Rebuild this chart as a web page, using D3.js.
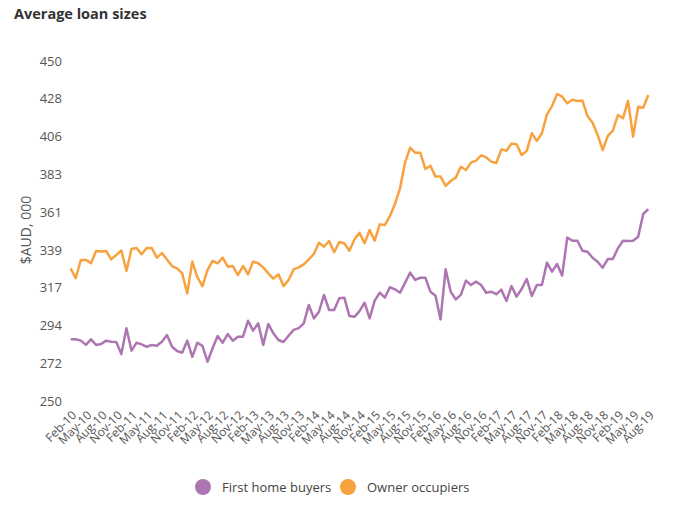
<!DOCTYPE html>
<html>
<head>
<meta charset="utf-8">
<script src="https://cdn.jsdelivr.net/npm/d3@7"></script>
<style>
  html, body { margin: 0; padding: 0; background: #fff; }
  svg text { font-family: "Open Sans", "Noto Sans", sans-serif; }
</style>
</head>
<body>
<svg id="chart" width="676" height="506"></svg>
<script>
const seriesNames = ["First home buyers", "Owner occupiers"];
const seriesColors = ["#ad76b3", "#f8a23f"];

const firstHomeBuyers = [
  286.3, 286.3, 285.5, 283.0, 286.3, 283.0, 283.5, 285.5, 284.9, 284.7,
  277.6, 292.8, 279.6, 284.3, 283.3, 281.9, 283.0, 282.5, 284.9, 288.8,
  281.9, 279.4, 278.4, 285.5, 276.0, 284.3, 282.4, 273.1, 281.0, 288.2,
  284.3, 289.4, 285.5, 287.8, 287.8, 297.2, 291.4, 295.7, 283.0, 295.3,
  289.8, 285.9, 284.7, 288.4, 291.8, 292.9, 295.7, 306.5, 298.6, 302.5,
  312.4, 303.5, 303.5, 310.4, 310.8, 300.0, 299.5, 302.9, 307.8, 298.6,
  309.0, 313.7, 310.8, 316.9, 315.7, 313.7, 319.6, 325.5, 321.2, 322.5,
  322.5, 314.3, 311.9, 298.0, 327.5, 314.3, 309.8, 312.4, 320.8, 318.2,
  320.2, 318.2, 313.7, 314.3, 312.8, 315.5, 308.8, 317.6, 311.4, 315.9,
  321.8, 311.8, 318.2, 318.2, 331.4, 326.1, 330.6, 323.7, 346.1, 344.3,
  344.3, 338.4, 337.8, 334.3, 331.9, 328.4, 333.5, 333.5, 339.8, 344.3,
  344.1, 344.3, 346.6, 360.0, 362.9
];

const ownerOccupiers = [
  328.0, 322.2, 333.0, 333.0, 331.0, 338.2, 338.0, 338.2, 333.3, 335.9,
  338.5, 326.5, 339.4, 340.0, 336.3, 340.0, 340.0, 334.3, 337.0, 333.3,
  329.4, 328.0, 325.1, 313.3, 332.0, 322.8, 317.6, 327.0, 332.4, 331.0,
  334.3, 329.0, 329.4, 324.1, 329.4, 324.5, 332.0, 331.0, 328.6, 325.1,
  322.0, 324.5, 317.6, 321.2, 327.4, 328.6, 330.4, 333.3, 336.5, 343.1,
  340.8, 344.1, 337.5, 343.5, 342.8, 338.4, 345.0, 349.0, 342.8, 350.6,
  344.3, 353.9, 353.5, 358.8, 365.9, 375.1, 390.4, 399.0, 396.0, 396.0,
  386.5, 388.4, 382.0, 382.0, 376.5, 379.4, 381.4, 387.8, 385.9, 390.2,
  391.4, 394.5, 393.3, 390.8, 390.0, 398.0, 397.2, 401.4, 401.0, 394.7,
  397.0, 407.5, 403.0, 407.5, 418.6, 423.5, 430.6, 429.0, 425.1, 427.2,
  426.5, 426.7, 417.6, 413.7, 406.5, 397.6, 405.9, 409.0, 418.2, 416.3,
  426.5, 405.5, 423.1, 422.5, 430.0
];

const xTickLabels = [
  "Feb-10","May-10","Aug-10","Nov-10","Feb-11","May-11","Aug-11","Nov-11",
  "Feb-12","May-12","Aug-12","Nov-12","Feb-13","May-13","Aug-13","Nov-13",
  "Feb-14","May-14","Aug-14","Nov-14","Feb-15","May-15","Aug-15","Nov-15",
  "Feb-16","May-16","Aug-16","Nov-16","Feb-17","May-17","Aug-17","Nov-17",
  "Feb-18","May-18","Aug-18","Nov-18","Feb-19","May-19","Aug-19"
];
const yTickLabels = ["250","272","294","317","339","361","383","406","428","450"];
const yMin = 250, yMax = 450;

const svg = d3.select("#chart");
const x = d3.scaleLinear().domain([0, firstHomeBuyers.length - 1]).range([70.7, 648.3]);
const y = d3.scaleLinear().domain([yMin, yMax]).range([401, 61]);

// Title
svg.append("text")
  .attr("x", 14).attr("y", 19)
  .attr("font-size", 14.5).attr("font-weight", "bold")
  .attr("fill", "#333")
  .text("Average loan sizes");

// Y axis
const yTickVals = yTickLabels.map((d, i) => yMin + i * (yMax - yMin) / (yTickLabels.length - 1));
const yAxis = d3.axisLeft(y).tickValues(yTickVals)
  .tickFormat((d, i) => yTickLabels[i]).tickSize(0).tickPadding(0);
const yg = svg.append("g").attr("transform", "translate(62,0)").call(yAxis);
yg.select(".domain").remove();
yg.selectAll("text").attr("font-size", 13).attr("fill", "#555")
  .attr("font-family", '"Open Sans", sans-serif');

// Y label
svg.append("text")
  .attr("transform", "translate(31,230) rotate(-90)")
  .attr("text-anchor", "middle")
  .attr("font-size", 14).attr("fill", "#555")
  .text("$AUD, 000");

// X axis
const xTickVals = xTickLabels.map((d, i) => i * 3);
const xAxis = d3.axisBottom(x).tickValues(xTickVals)
  .tickFormat((d, i) => xTickLabels[i]).tickSize(0).tickPadding(0);
const xg = svg.append("g").attr("transform", "translate(0,410)").call(xAxis);
xg.select(".domain").remove();
xg.selectAll("text")
  .attr("font-size", 12).attr("fill", "#555")
  .attr("font-family", '"Open Sans", sans-serif')
  .attr("text-anchor", "end")
  .attr("dy", "0.35em")
  .attr("transform", "translate(3,3) rotate(-45)");

// Lines
const line = d3.line().x((d, i) => x(i)).y(d => y(d));
[firstHomeBuyers, ownerOccupiers].forEach((s, k) => {
  svg.append("path").datum(s)
    .attr("fill", "none")
    .attr("stroke", seriesColors[k])
    .attr("stroke-width", 2.5)
    .attr("stroke-linejoin", "round")
    .attr("d", line);
});

// Legend
const legendX = [203, 348];
seriesNames.forEach((name, k) => {
  svg.append("circle").attr("cx", legendX[k]).attr("cy", 487).attr("r", 8)
    .attr("fill", seriesColors[k]);
  svg.append("text").attr("x", legendX[k] + 19).attr("y", 487)
    .attr("dy", "0.35em").attr("font-size", 13).attr("fill", "#444")
    .text(name);
});
</script>
</body>
</html>
